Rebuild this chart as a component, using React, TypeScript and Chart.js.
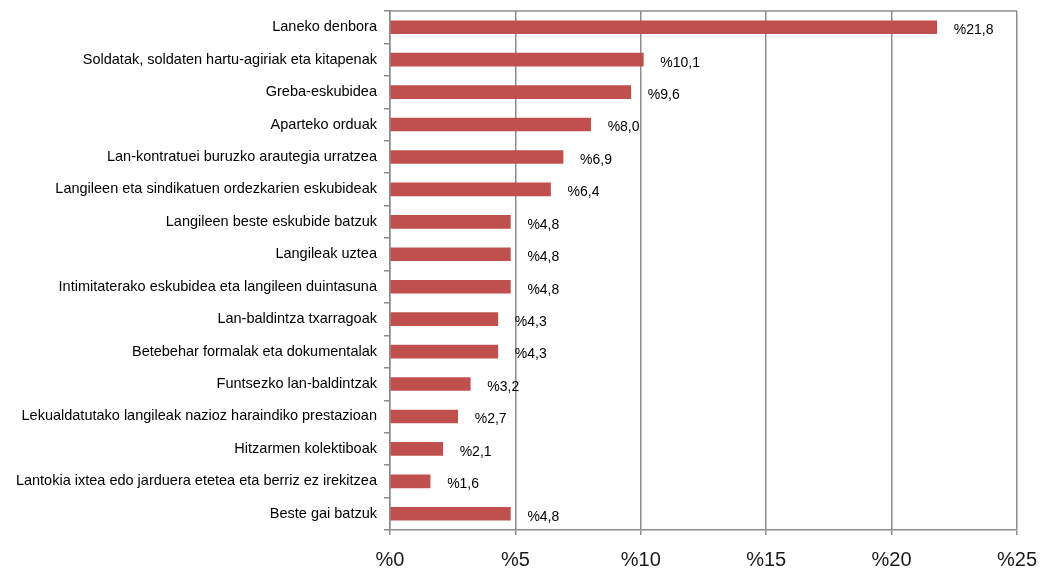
import React, { useEffect, useRef } from "react";
import { Chart, registerables } from "chart.js";

Chart.register(...registerables);

const categories = [
  "Laneko denbora",
  "Soldatak, soldaten hartu-agiriak eta kitapenak",
  "Greba-eskubidea",
  "Aparteko orduak",
  "Lan-kontratuei buruzko arautegia urratzea",
  "Langileen eta sindikatuen ordezkarien eskubideak",
  "Langileen beste eskubide batzuk",
  "Langileak uztea",
  "Intimitaterako eskubidea eta langileen duintasuna",
  "Lan-baldintza txarragoak",
  "Betebehar formalak eta dokumentalak",
  "Funtsezko lan-baldintzak",
  "Lekualdatutako langileak nazioz haraindiko prestazioan",
  "Hitzarmen kolektiboak",
  "Lantokia ixtea edo jarduera etetea eta berriz ez irekitzea",
  "Beste gai batzuk",
];

const values = [21.8, 10.1, 9.6, 8.0, 6.9, 6.4, 4.8, 4.8, 4.8, 4.3, 4.3, 3.2, 2.7, 2.1, 1.6, 4.8];

const xTicks = [0, 5, 10, 15, 20, 25];

const fmt = (v: number) => "%" + v.toFixed(1).replace(".", ",");

const FONT = "'Liberation Sans', Arial, sans-serif";
const NARROW = "'Liberation Sans Narrow', 'Liberation Sans', Arial, sans-serif";

const labelPlugin = {
  id: "barLabels",
  afterDatasetsDraw(chart: any) {
    const ctx = chart.ctx;
    const meta = chart.getDatasetMeta(0);
    ctx.save();
    ctx.font = `14px ${FONT}`;
    ctx.fillStyle = "#000";
    ctx.textAlign = "left";
    ctx.textBaseline = "middle";
    meta.data.forEach((bar: any, i: number) => {
      ctx.fillText(fmt(values[i]), bar.x + 17, bar.y + 3);
    });
    ctx.restore();
  },
};

const borderPlugin = {
  id: "topBorder",
  afterDraw(chart: any) {
    const { ctx, chartArea } = chart;
    ctx.save();
    ctx.strokeStyle = "#8c8c8c";
    ctx.lineWidth = 1.5;
    ctx.beginPath();
    ctx.moveTo(chartArea.left, chartArea.top);
    ctx.lineTo(chartArea.right, chartArea.top);
    ctx.stroke();
    ctx.restore();
  },
};

export default function App() {
  const ref = useRef<HTMLCanvasElement>(null);

  useEffect(() => {
    document.body.style.margin = "0";
    const chart = new Chart(ref.current!, {
      type: "bar",
      data: {
        labels: categories,
        datasets: [
          {
            data: values,
            backgroundColor: "#C0504D",
            borderWidth: 0,
            barThickness: 13,
          },
        ],
      },
      options: {
        indexAxis: "y",
        animation: false,
        responsive: false,
        maintainAspectRatio: false,
        layout: { padding: { top: 11, right: 23, left: 0, bottom: 0 } },
        plugins: { legend: { display: false }, tooltip: { enabled: false } },
        scales: {
          x: {
            min: 0,
            max: 25,
            afterBuildTicks: (scale: any) => {
              scale.ticks = xTicks.map((v) => ({ value: v }));
            },
            afterFit: (scale: any) => {
              scale.height = 39;
              scale.paddingLeft = 0;
              scale.paddingRight = 0;
            },
            border: { display: true, color: "#8c8c8c", width: 1.5 },
            grid: {
              color: "#8c8c8c",
              lineWidth: 1.5,
              drawTicks: true,
              tickLength: 5,
              tickColor: "#8c8c8c",
            },
            ticks: {
              font: { size: 20, family: NARROW },
              color: "#1a1a1a",
              padding: 13,
              maxRotation: 0,
              callback: (v: any) => "%" + v,
            },
          },
          y: {
            afterFit: (scale: any) => {
              scale.width = 390;
              scale.paddingTop = 0;
              scale.paddingBottom = 0;
            },
            border: { display: true, color: "#8c8c8c", width: 1.5 },
            grid: {
              offset: true,
              drawOnChartArea: false,
              drawTicks: true,
              tickLength: 6,
              tickColor: "#8c8c8c",
              lineWidth: 1.5,
            },
            ticks: {
              font: { size: 14.5, family: FONT },
              color: "#000",
              padding: 7,
              autoSkip: false,
            },
          },
        },
      },
      plugins: [labelPlugin, borderPlugin],
    });
    return () => chart.destroy();
  }, []);

  return (
    <div style={{ width: 1040, height: 569 }}>
      <canvas ref={ref} width={1040} height={569} style={{ display: "block" }} />
    </div>
  );
}
